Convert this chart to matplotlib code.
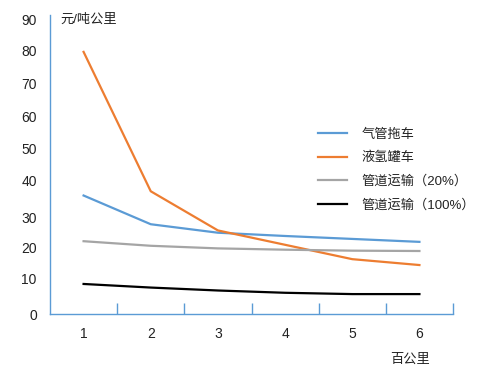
import matplotlib
matplotlib.use("Agg")
import matplotlib.pyplot as plt

plt.rcParams['font.family'] = ['Liberation Sans', 'Noto Sans CJK SC', 'DejaVu Sans']

categories = [1, 2, 3, 4, 5, 6]
tube_trailer = [36.0, 27.2, 24.6, 23.6, 22.7, 21.8]      # 气管拖车
liquid_tanker = [80.0, 37.3, 25.3, 20.9, 16.5, 14.7]     # 液氢罐车
pipeline_20 = [22.0, 20.6, 19.8, 19.4, 19.1, 19.0]       # 管道运输（20%）
pipeline_100 = [8.9, 7.8, 6.9, 6.2, 5.8, 5.8]            # 管道运输（100%）

series_names = ["气管拖车", "液氢罐车", "管道运输（20%）", "管道运输（100%）"]
y_tick_labels = ["0", "10", "20", "30", "40", "50", "60", "70", "80", "90"]
x_tick_labels = ["1", "2", "3", "4", "5", "6"]

# label placement (as laid out in the reference)
y_label_pos = [-0.3, 10.7, 20.2, 29.3, 40.6, 50.4, 60.3, 70.2, 80.3, 89.8]

W, H = 503, 371
fig = plt.figure(figsize=(W / 100, H / 100), dpi=100)
ax = fig.add_axes([50 / W, (H - 314) / H, (453 - 50) / W, (314 - 15) / H])

colors = ['#5B9BD5', '#ED7D31', '#A5A5A5', '#000000']
for vals, name, c in zip([tube_trailer, liquid_tanker, pipeline_20, pipeline_100], series_names, colors):
    ax.plot(categories, vals, color=c, lw=1.6, label=name, solid_joinstyle='round')

ax.set_xlim(0.5, 6.5)
ax.set_ylim(0, 91.3)

axis_c = '#5B9BD5'
for s in ['top', 'right']:
    ax.spines[s].set_visible(False)
for s in ['left', 'bottom']:
    ax.spines[s].set_color(axis_c)
    ax.spines[s].set_linewidth(1.0)

ax.set_yticks(y_label_pos)
ax.set_yticklabels(y_tick_labels, fontsize=10)
ax.tick_params(axis='y', length=0, pad=9.5, labelcolor='#222222')

ax.set_xticks([1.5, 2.5, 3.5, 4.5, 5.5, 6.5])
ax.set_xticklabels([])
ax.tick_params(axis='x', which='major', direction='in', length=8, width=1.0, color=axis_c)
ax.set_xticks(categories, minor=True)
ax.set_xticklabels(x_tick_labels, minor=True, fontsize=10)
ax.tick_params(axis='x', which='minor', length=0, pad=9.5, labelcolor='#222222')

fig.text(60 / W, 1 - 20 / H, "元/吨公里", fontsize=9.5, ha='left', va='center', color='#222222')
fig.text(410 / W, 1 - 360 / H, "百公里", fontsize=9.5, ha='center', va='center', color='#222222')

leg = ax.legend(loc='upper left', bbox_to_anchor=((313 - 50) / (453 - 50), (314 - 123) / 299),
                frameon=False, fontsize=9.5, handlelength=2.2, handletextpad=1.1,
                labelspacing=0.85, borderaxespad=0)
for t in leg.get_texts():
    t.set_color('#222222')

fig.savefig("out.png", dpi=100)
